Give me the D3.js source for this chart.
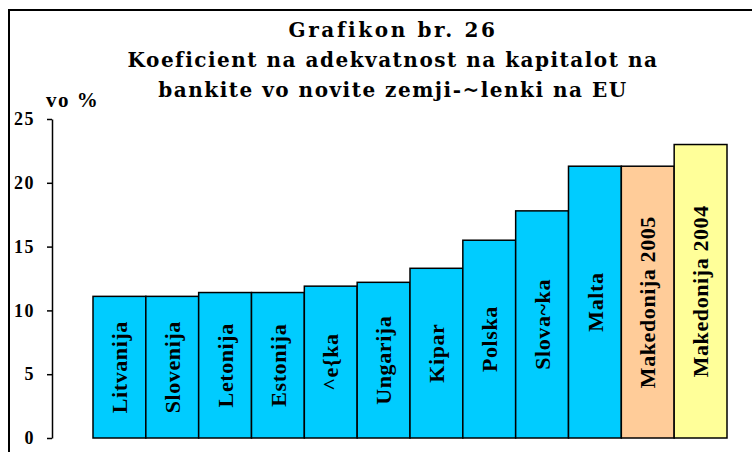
<!DOCTYPE html>
<html>
<head>
<meta charset="utf-8">
<script src="https://cdn.jsdelivr.net/npm/d3@7"></script>
<style>
  body { margin: 0; background: #fff; }
  svg { display: block; }
</style>
</head>
<body>
<div class="canvas"></div>
<script>
// data
const categories = ['Litvanija', 'Slovenija', 'Letonija', 'Estonija', '^e{ka', 'Ungarija',
                    'Kipar', 'Polska', 'Slova~ka', 'Malta', 'Makedonija 2005', 'Makedonija 2004'];
const values = [11.1, 11.1, 11.4, 11.4, 11.9, 12.2, 13.3, 15.5, 17.8, 21.3, 21.3, 23.0];
const yTicks = [0, 5, 10, 15, 20, 25];
const titleLines = ['Grafikon br. 26',
                    'Koeficient na adekvatnost na kapitalot na',
                    'bankite vo novite zemji-~lenki na EU'];
const unitLabel = 'vo %';

const width = 752, height = 452;

const svg = d3.select('.canvas')
    .append('svg')
    .attr('width', width)
    .attr('height', height);

// outer frame (runs off the right and bottom edge)
svg.append('rect')
    .attr('x', 9)
    .attr('y', 10)
    .attr('width', 760)
    .attr('height', 460)
    .attr('fill', 'none')
    .attr('stroke', '#000')
    .attr('stroke-width', 2);

// scales
const y = d3.scaleLinear()
    .domain([0, 25])
    .range([438, 119]);

const x = d3.scaleBand()
    .domain(categories)
    .range([93, 727])
    .padding(0);

// cyan for EU members, own colours for Macedonia
const color = d3.scaleOrdinal()
    .domain(['Makedonija 2005', 'Makedonija 2004'])
    .range(['#FFCC99', '#FFFF99'])
    .unknown('#00CCFF');

// title
svg.append('g')
    .selectAll('text')
    .data(titleLines)
    .join('text')
    .attr('x', 393)
    .attr('y', (d, i) => 37 + i * 30)
    .attr('text-anchor', 'middle')
    .attr('font-family', '"DejaVu Serif", serif')
    .attr('font-weight', 'bold')
    .attr('font-size', 20)
    .attr('letter-spacing', (d, i) => i === 0 ? 2.6 : 1.5)
    .text(d => d);

svg.append('text')
    .attr('x', 46)
    .attr('y', 107)
    .attr('font-family', '"Liberation Serif", serif')
    .attr('font-weight', 'bold')
    .attr('font-size', 21)
    .attr('letter-spacing', 1.5)
    .text(unitLabel);

// y axis
const yAxis = d3.axisLeft(y)
    .tickValues(yTicks)
    .tickSize(5)
    .tickSizeOuter(0)
    .tickPadding(12);

const yAxisGroup = svg.append('g')
    .attr('transform', 'translate(52, 0)')
    .call(yAxis);

yAxisGroup.select('.domain')
    .attr('stroke-width', 1.5);
yAxisGroup.selectAll('.tick line')
    .attr('stroke-width', 1.5);
yAxisGroup.selectAll('.tick text')
    .attr('font-family', '"Liberation Serif", serif')
    .attr('font-weight', 'bold')
    .attr('font-size', 18)
    .attr('letter-spacing', 1.5)
    .attr('fill', '#000');

// bars
svg.append('g')
    .selectAll('rect')
    .data(categories)
    .join('rect')
    .attr('x', d => x(d))
    .attr('y', (d, i) => y(values[i]))
    .attr('width', x.bandwidth())
    .attr('height', (d, i) => y(0) - y(values[i]))
    .attr('fill', d => color(d))
    .attr('stroke', '#000')
    .attr('stroke-width', 1.5);

// labels inside the bars, rotated
svg.append('g')
    .selectAll('text')
    .data(categories)
    .join('text')
    .attr('transform', (d, i) => {
        const cx = x(d) + x.bandwidth() / 2;
        const cy = (y(values[i]) + y(0)) / 2;
        return `translate(${cx}, ${cy}) rotate(-90)`;
    })
    .attr('text-anchor', 'middle')
    .attr('dy', '0.35em')
    .attr('font-family', '"Liberation Serif", serif')
    .attr('font-weight', 'bold')
    .attr('font-size', 22)
    .attr('letter-spacing', 0.6)
    .text(d => d);
</script>
</body>
</html>
